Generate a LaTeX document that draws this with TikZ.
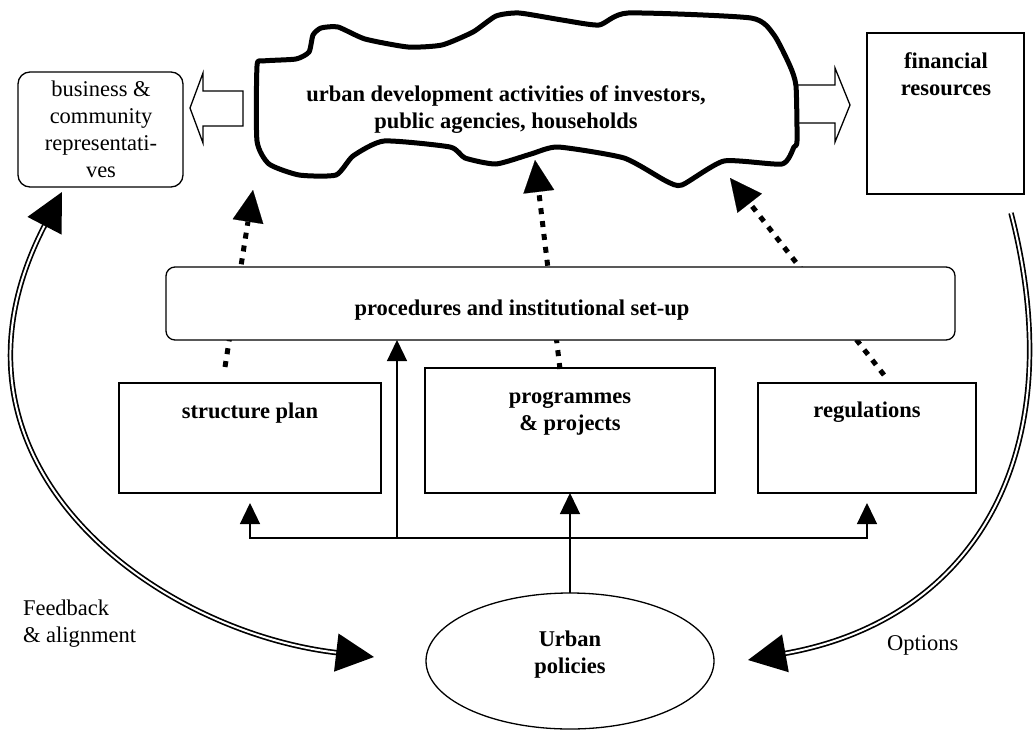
\documentclass[tikz,border=0pt]{standalone}
\usepackage{fontspec}
\setmainfont{Liberation Serif}
\usetikzlibrary{arrows.meta,calc,shapes.geometric}
\begin{document}
\begin{tikzpicture}[x=1pt,y=-1pt,
  every node/.style={inner sep=0pt, outer sep=0pt},
  txt/.style={font=\fontsize{22.5}{27}\selectfont, align=center},
  btxt/.style={font=\fontsize{22.5}{27}\selectfont\bfseries, align=center},
  frame/.style={draw, line width=1.3pt, fill=white},
  conn/.style={line width=1.3pt, -{Triangle[length=21pt,width=20pt]}},
  dotarrow/.style={line width=5pt, dash pattern=on 6pt off 7pt,
    -{Triangle[length=32pt,width=31pt,line width=0.1pt]}},
  dblline/.style={double, line width=1.7pt, double distance=2pt},
  hollow/.style={draw, line width=1.3pt, fill=white, line join=miter}
]
\useasboundingbox (0,0) rectangle (1035,731);

% block arrows pointing out of the activities cloud
\draw[hollow] (243,91) -- (203,91) -- (203,73) -- (190,108) -- (203,143)
  -- (203,126) -- (243,126) -- cycle;
\draw[hollow] (796,85) -- (835,85) -- (835,68) -- (850,105) -- (835,142)
  -- (835,123) -- (796,123) -- cycle;

% the activities cloud
\draw[line width=5pt, line join=round, fill=white]
  plot[smooth cycle, tension=0.35] coordinates {
  (263,61) (296,59) (309,52) (313,35) (321,28) (338,27) (365,39) (408,47)
  (442,45) (473,32) (496,16) (519,13) (562,20) (599,25) (628,13) (751,18)
  (774,35) (790,66) (796,86) (797,141) (794,147) (782,164) (724,161)
  (682,185) (666,181) (624,158) (558,147) (531,154) (496,164) (465,158)
  (450,147) (384,141) (353,156) (336,175) (299,175) (269,164) (257,141)
  (257,66)};
\node[btxt] (act) at (506,109.7)
  {urban development activities of investors,\\public agencies, households};

% side boxes
\node[frame, rounded corners=12pt, minimum width=165pt, minimum height=115pt,
  anchor=north west] (bus) at (18,72) {};
\node[txt] (bust) at (101,129.4)
  {business \&\\community\\representati-\\ves};
\node[frame, minimum width=157pt, minimum height=161pt, anchor=north west]
  (fin) at (867,33) {};
\node[btxt] (fint) at (946,73.8) {financial\\resources};

% instrument boxes
\node[frame, minimum width=262pt, minimum height=110pt, anchor=north west]
  (sp) at (119,383) {};
\node[frame, minimum width=290pt, minimum height=125pt, anchor=north west]
  (pp) at (425,368) {};
\node[frame, minimum width=218pt, minimum height=110pt, anchor=north west]
  (rg) at (758,383) {};

% dotted influence arrows (pass behind the procedures box)
\coordinate (d1s) at ($(sp.north west)+(106,-16)$);
\coordinate (d1e) at (253,190);
\coordinate (d2s) at ($(pp.north west)+(135,1)$);
\coordinate (d2e) at (535,160);
\coordinate (d3s) at ($(rg.north west)+(126,-8)$);
\coordinate (d3e) at (730,178);
\draw[dotarrow] (d1s) -- (d1e);
\draw[dotarrow] (d2s) -- (d2e);
\draw[dotarrow] (d3s) -- (d3e);

\node[frame, rounded corners=9pt, minimum width=789pt, minimum height=73pt,
  anchor=north west] (proc) at (166,267) {};
\node[btxt, anchor=base] (proct) at (522,315)
  {procedures and institutional set-up};

\node[btxt, anchor=base] (spt) at (250,418) {structure plan};
\node[btxt] (ppt) at (570,413.8) {programmes\\\& projects};
\node[btxt, anchor=base] (rgt) at (867,417) {regulations};

% urban policies
\node[draw, ellipse, line width=1.3pt, minimum width=288pt,
  minimum height=136pt] (pol) at (570,661) {};
\node[btxt] (polt) at (570,654.5) {Urban\\policies};

% policy connectors
\coordinate (jn) at (397,538);
\draw[conn, shorten >=10pt] (jn) -| (sp.south);
\draw[conn, shorten >=10pt] (jn) -| (rg.south);
\draw[conn] (jn) -- (jn |- proc.south);
\draw[conn] (pol.north) -- (pp.south);

% feedback and options loops
\coordinate (fbA) at ($(bus.south west)+(44,5)$);
\coordinate (fbB) at ($(pol.west)+(-52,-4)$);
\draw[dblline, {Triangle[length=38pt,width=38pt]}-{Triangle[length=38pt,width=38pt]}]
  (fbA) .. controls (-78,462) and (154.5,631.3) .. (fbB);
\coordinate (opA) at ($(fin.south west)+(144,19)$);
\coordinate (opB) at ($(pol.east)+(34,-1)$);
\draw[dblline, -{Triangle[length=38pt,width=38pt]}]
  (opA) .. controls (1073.5,455.5) and (973.5,619.8) .. (opB);

\node[txt, align=left, anchor=west] (fbt) at (23,623.3)
  {Feedback\\\& alignment};
\node[txt, anchor=base west] (opt) at (887,650) {Options};
\end{tikzpicture}
\end{document}
